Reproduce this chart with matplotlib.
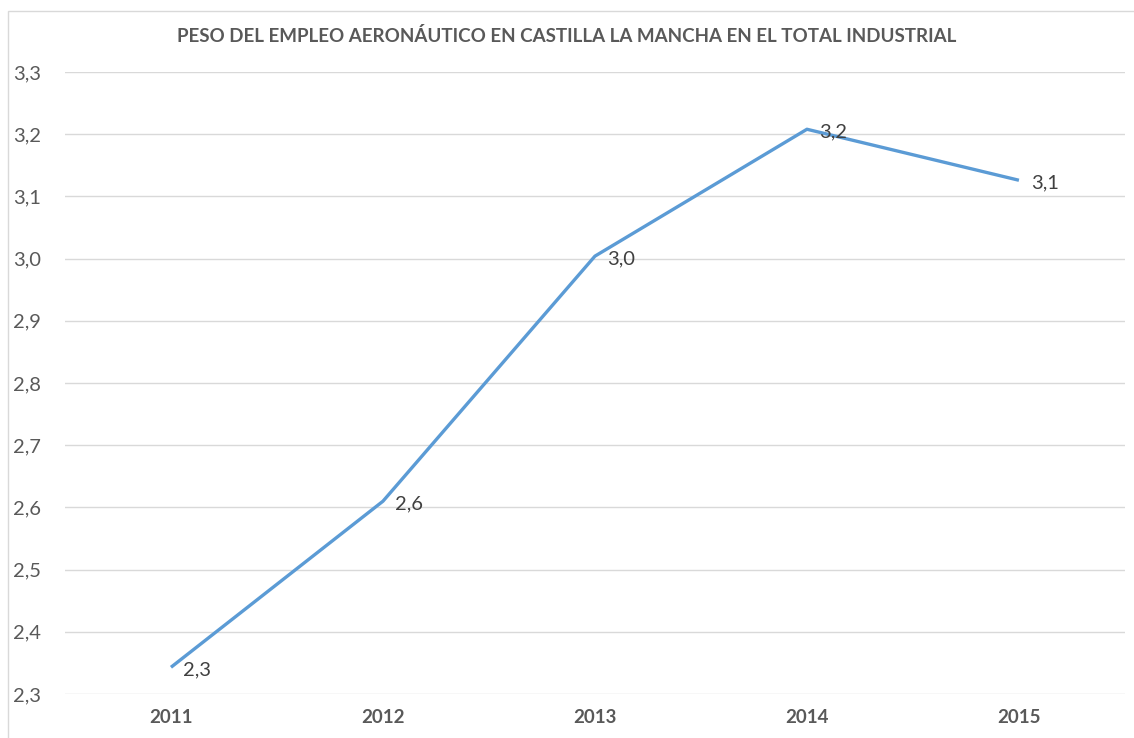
import matplotlib
matplotlib.use("Agg")
import matplotlib.pyplot as plt
from matplotlib.patches import Rectangle

plt.rcParams['font.family'] = ['Lato', 'DejaVu Sans']

# Data
years = ['2011', '2012', '2013', '2014', '2015']
peso = [2.343, 2.61, 3.004, 3.208, 3.126]
etiquetas = ['2,3', '2,6', '3,0', '3,2', '3,1']
yticks = [2.3, 2.4, 2.5, 2.6, 2.7, 2.8, 2.9, 3.0, 3.1, 3.2, 3.3]
ytick_labels = ['2,3', '2,4', '2,5', '2,6', '2,7', '2,8', '2,9', '3,0', '3,1', '3,2', '3,3']

fig = plt.figure(figsize=(11.34, 7.38), dpi=100)
ax = fig.add_axes([0.0573, 0.0596, 0.9347, 0.8428])

# chart border (cut at the right/bottom like the original)
fig.patches.append(Rectangle((8 / 1134, -0.1), 1.2, 1 - 11 / 738 + 0.1, transform=fig.transFigure,
                             fill=False, edgecolor='#d9d9d9', linewidth=1))

x = list(range(len(years)))
ax.plot(x, peso, color='#5b9bd5', linewidth=2.4, solid_capstyle='butt', zorder=3)

for xi, v, lab in zip(x, peso, etiquetas):
    ax.annotate(lab, (xi, v), xytext=(8.5, -2), textcoords='offset points',
                ha='left', va='center', fontsize=14.5, color='#404040', zorder=4)

ax.set_xlim(-0.5, len(years) - 0.5)
ax.set_ylim(2.3, 3.3)
ax.set_yticks(yticks)
ax.set_yticklabels(ytick_labels, fontsize=14.5, color='#595959')
ax.set_xticks(x)
ax.set_xticklabels(years, fontsize=13.5, fontweight='bold', color='#595959')
ax.tick_params(length=0)
ax.tick_params(axis='y', pad=17)
ax.tick_params(axis='x', pad=11)
ax.grid(axis='y', color='#d9d9d9', linewidth=1)
ax.set_axisbelow(True)
for s in ax.spines.values():
    s.set_visible(False)

fig.text(0.5, 1 - 36 / 738, 'PESO DEL EMPLEO AERONÁUTICO EN CASTILLA LA MANCHA EN EL TOTAL INDUSTRIAL',
         ha='center', va='center', fontsize=13.5, fontweight='bold', color='#595959')

fig.savefig('out.png', dpi=100)
